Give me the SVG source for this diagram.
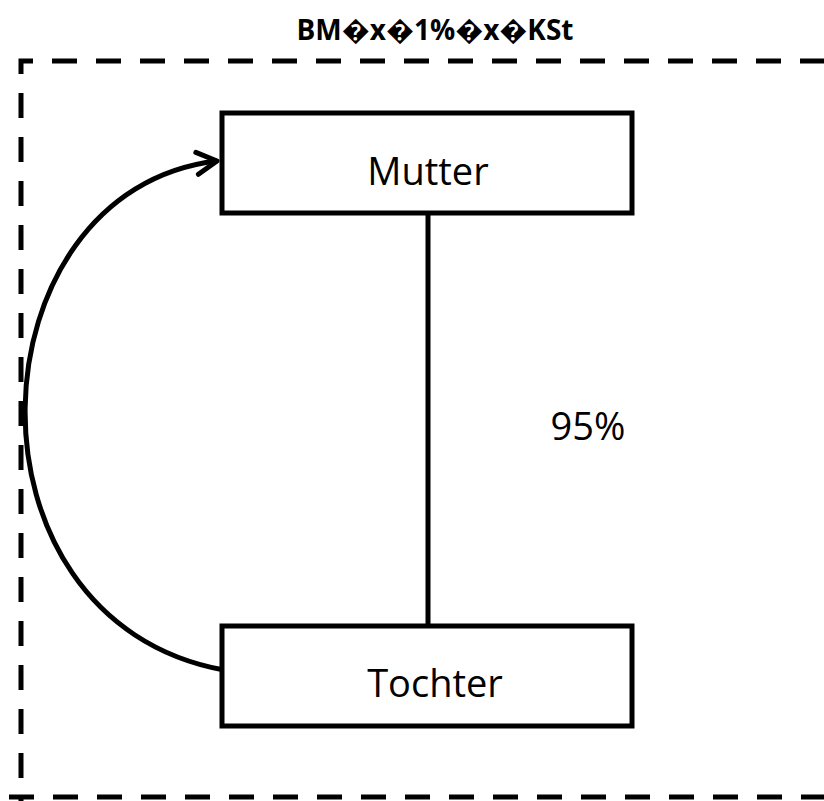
<svg xmlns="http://www.w3.org/2000/svg" width="824" height="801" viewBox="0 0 824 801">
<defs>
<style>
.box{fill:#fff;stroke:#000;stroke-width:5}
.lbl{font-family:"Open Sans","Liberation Sans",sans-serif;font-size:38px;fill:#000;text-anchor:middle}
.conn{fill:none;stroke:#000;stroke-width:5}
</style>
<marker id="arr" markerWidth="12" markerHeight="12" refX="9" refY="6" orient="auto" markerUnits="userSpaceOnUse" viewBox="0 0 12 12" overflow="visible">
<polyline points="-11,-5 9,6 -11,17" fill="none" stroke="#000" stroke-width="5" stroke-linecap="round" stroke-linejoin="round"/>
</marker>
</defs>
<rect width="824" height="801" fill="#fff"/>
<g id="frame">
<path d="M21,822 L21,61 L840,61" fill="none" stroke="#000" stroke-width="5" stroke-dasharray="25,19"/>
<path d="M9,797 L840,797" fill="none" stroke="#000" stroke-width="5" stroke-dasharray="25,19"/>
<text x="435" y="40" font-family="'Open Sans','Liberation Sans',sans-serif" font-size="28" font-weight="bold" text-anchor="middle">BM�x�1%�x�KSt</text>
</g>
<g id="connectors">
<line class="conn" x1="428" y1="213" x2="428" y2="626"/>
<path class="conn" d="M224,670 C -50,620 -30,190 217,161" marker-end="url(#arr)"/>
<text class="lbl" x="588" y="440">95%</text>
</g>
<g id="mutter">
<rect class="box" x="222" y="113" width="410" height="100"/>
<text class="lbl" x="428" y="185">Mutter</text>
</g>
<g id="tochter">
<rect class="box" x="222" y="626" width="410" height="100"/>
<text class="lbl" x="435" y="697">Tochter</text>
</g>
</svg>
